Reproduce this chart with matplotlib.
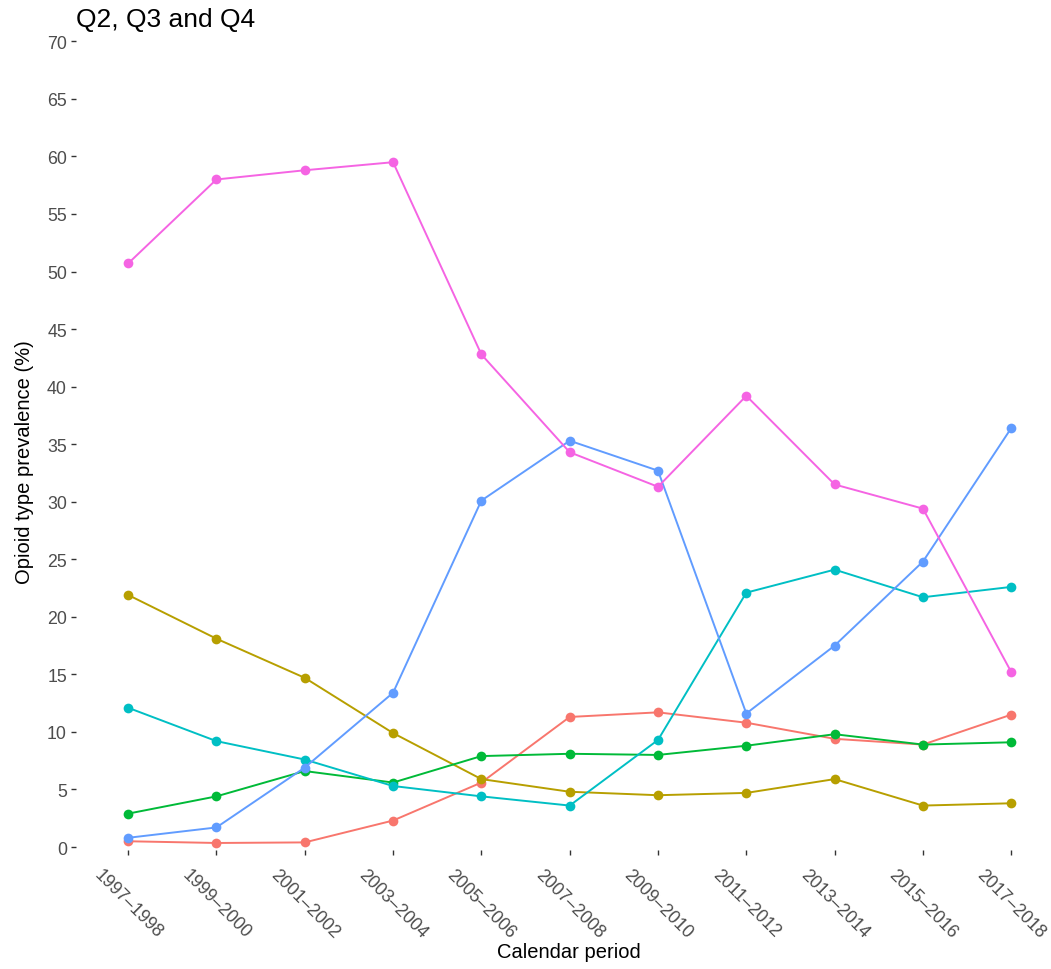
import matplotlib
matplotlib.use('Agg')
import matplotlib.pyplot as plt

plt.rcParams['font.family'] = ['Liberation Sans', 'DejaVu Sans']

periods = ["1997–1998", "1999–2000", "2001–2002", "2003–2004", "2005–2006",
           "2007–2008", "2009–2010", "2011–2012", "2013–2014", "2015–2016",
           "2017–2018"]

# prevalence (%) per opioid type, one list per series
red = [0.5, 0.35, 0.4, 2.3, 5.6, 11.3, 11.7, 10.8, 9.4, 8.9, 11.5]
olive = [21.9, 18.1, 14.7, 9.9, 5.9, 4.8, 4.5, 4.7, 5.9, 3.6, 3.8]
green = [2.9, 4.4, 6.6, 5.6, 7.9, 8.1, 8.0, 8.8, 9.8, 8.9, 9.1]
cyan = [12.1, 9.2, 7.6, 5.3, 4.4, 3.6, 9.3, 22.1, 24.1, 21.7, 22.6]
blue = [0.8, 1.7, 6.9, 13.4, 30.1, 35.3, 32.7, 11.6, 17.5, 24.8, 36.4]
pink = [50.7, 58.0, 58.8, 59.5, 42.8, 34.3, 31.3, 39.2, 31.5, 29.4, 15.2]

series = [
    (red, "#F8766D"),
    (olive, "#B79F00"),
    (green, "#00BA38"),
    (cyan, "#00BFC4"),
    (blue, "#619CFF"),
    (pink, "#F564E3"),
]

W, H = 1051, 970
fig = plt.figure(figsize=(W / 100, H / 100), dpi=100)
# panel in pixel coordinates: left 76, right 1051, top 32, bottom 851
ax = fig.add_axes([76 / W, 1 - 851 / H, (W - 76) / W, (851 - 32) / H])

x = list(range(len(periods)))
for vals, col in series:
    ax.plot(x, vals, color=col, lw=1.4, marker='o', ms=7,
            markeredgewidth=0, solid_capstyle='round')

ax.set_xlim(-0.59, 10.45)
ax.set_ylim(-0.26, 70.9)
ax.set_yticks(range(0, 71, 5))
ax.set_xticks(x)
ax.set_xticklabels(periods, rotation=-45, ha='center', va='top',
                   rotation_mode='default')

for s in ax.spines.values():
    s.set_visible(False)

ax.tick_params(axis='both', colors='#333333', length=3.5, width=1.0,
               labelsize=12.8, labelcolor='#4D4D4D')
ax.tick_params(axis='x', pad=8)
ax.tick_params(axis='y', pad=3)

ax.set_ylabel("Opioid type prevalence (%)", fontsize=14.5, color='black')
ax.yaxis.set_label_coords(-42 / 975, (851 - 462) / 819)
ax.set_xlabel("Calendar period", fontsize=14.5, color='black')
ax.xaxis.set_label_coords((569 - 76) / 975, -(943 - 851) / 819)
ax.set_title("Q2, Q3 and Q4", loc='left', fontsize=19, color='black', pad=3)

fig.savefig("out.png", dpi=100)
